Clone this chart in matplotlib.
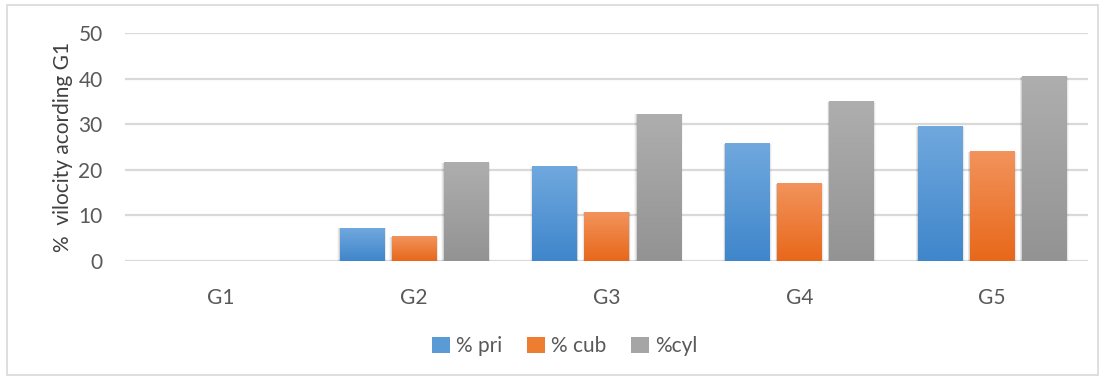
import numpy as np
import matplotlib
matplotlib.use('Agg')
import matplotlib.pyplot as plt
from matplotlib.patches import Rectangle, Patch
from matplotlib.colors import LinearSegmentedColormap

plt.rcParams['font.family'] = ['Lato', 'DejaVu Sans']

groups = ['G1', 'G2', 'G3', 'G4', 'G5']
pri = [0, 7.2, 20.6, 25.7, 29.4]
cub = [0, 5.3, 10.7, 16.9, 23.9]
cyl = [0, 21.5, 32.2, 34.9, 40.4]
series_names = ['% pri', '% cub', '%cyl']

# (top colour, bottom colour) for the Excel-like gradient
grads = [('#70a8de', '#3f86cb'),
         ('#f2935c', '#e8681a'),
         ('#aeaeae', '#939393')]

fig = plt.figure(figsize=(11.05, 3.79), dpi=100)
ax = fig.add_axes([0.113, 0.311, 0.872, 0.602])

x = np.arange(len(groups))
width = 0.23
offsets = [-0.27, 0, 0.27]

for vals, off, (top, bot) in zip([pri, cub, cyl], offsets, grads):
    bars = ax.bar(x + off, vals, width, color='none', zorder=3)
    cmap = LinearSegmentedColormap.from_list('g', [bot, top])
    grad = np.linspace(1, 0, 100).reshape(-1, 1)
    for b in bars:
        h = b.get_height()
        if h <= 0:
            continue
        x0 = b.get_x()
        # soft shadow
        for k, a in enumerate([0.10, 0.06, 0.03]):
            d = 0.004 * (k + 1)
            ax.add_patch(Rectangle((x0 - d, -0.25 * (k + 1)), width + 2 * d, h + 0.25 * (k + 1),
                                   facecolor='#000000', alpha=a, edgecolor='none', zorder=2))
        ax.imshow(grad, extent=[x0, x0 + width, 0, h], aspect='auto', cmap=cmap,
                  vmin=0, vmax=1, zorder=4, interpolation='bilinear')

ax.set_xlim(-0.5, 4.5)
ax.set_ylim(0, 50)
ax.set_yticks([0, 10, 20, 30, 40, 50])
ax.set_xticks(x)
ax.set_xticklabels(groups)
ax.tick_params(axis='both', length=0, colors='#595959', labelsize=15)
ax.tick_params(axis='y', pad=16)
ax.tick_params(axis='x', pad=19)
ax.grid(True, axis='y', color='#d9d9d9', linewidth=1.6, zorder=1)
ax.set_axisbelow(True)
for s in ax.spines.values():
    s.set_visible(False)
ax.set_ylabel('%  vilocity acording G1', fontsize=15, color='#404040', labelpad=4)

handles = [Patch(facecolor=c, edgecolor='none') for c in ['#5b9bd5', '#ed7d31', '#a5a5a5']]
leg = fig.legend(handles, series_names, loc='center', bbox_to_anchor=(0.511, 0.087),
                 ncol=3, frameon=False, fontsize=15, handlelength=0.85, handleheight=0.85,
                 handletextpad=0.3, columnspacing=1.2)
for t in leg.get_texts():
    t.set_color('#595959')

fig.patches.append(Rectangle((0.006, 0.01), 0.988, 0.978, transform=fig.transFigure,
                             fill=False, edgecolor='#d9d9d9', linewidth=1.2))

fig.savefig('out.png', dpi=100)
